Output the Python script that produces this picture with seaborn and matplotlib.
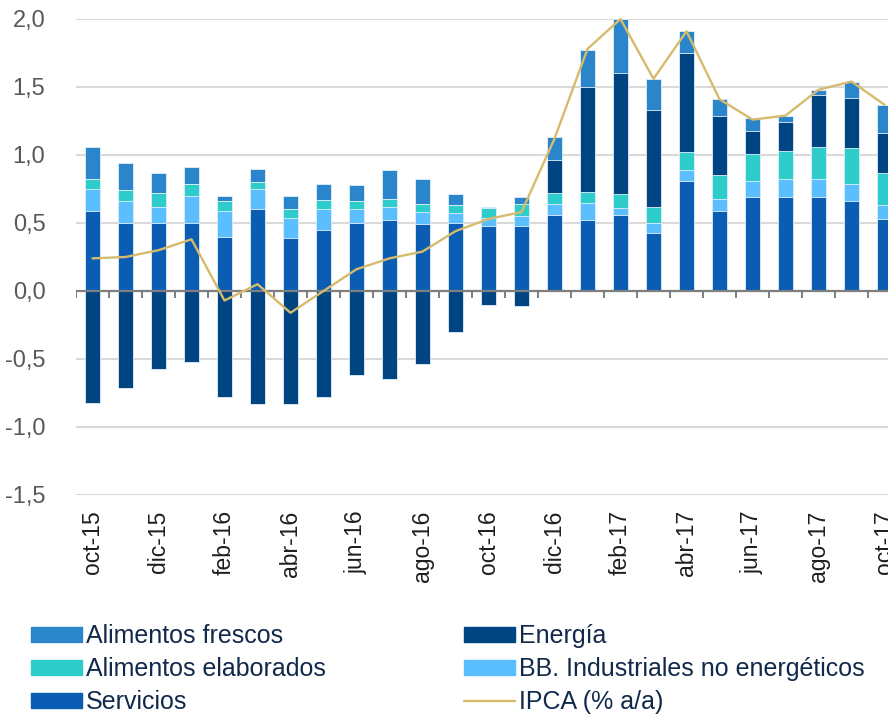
import numpy as np
import pandas as pd
import matplotlib
matplotlib.use("Agg")
import matplotlib.pyplot as plt
import matplotlib.patches as mpatches
from matplotlib.lines import Line2D
import seaborn as sns

# contribuciones al IPCA (pp) por componente
months = ["oct-15", "nov-15", "dic-15", "ene-16", "feb-16", "mar-16", "abr-16", "may-16",
          "jun-16", "jul-16", "ago-16", "sep-16", "oct-16", "nov-16", "dic-16", "ene-17",
          "feb-17", "mar-17", "abr-17", "may-17", "jun-17", "jul-17", "ago-17", "sep-17", "oct-17"]
servicios = [0.59, 0.50, 0.50, 0.50, 0.40, 0.60, 0.39, 0.45, 0.50, 0.52, 0.49, 0.50, 0.48,
             0.48, 0.56, 0.52, 0.56, 0.43, 0.81, 0.59, 0.69, 0.69, 0.69, 0.66, 0.53]
bb_industriales = [0.16, 0.16, 0.12, 0.20, 0.19, 0.15, 0.15, 0.15, 0.10, 0.10, 0.09, 0.07, 0.06,
                   0.07, 0.08, 0.13, 0.05, 0.07, 0.08, 0.09, 0.12, 0.13, 0.13, 0.13, 0.10]
alim_elaborados = [0.07, 0.08, 0.10, 0.09, 0.07, 0.05, 0.06, 0.07, 0.06, 0.06, 0.06, 0.06, 0.07,
                   0.09, 0.08, 0.08, 0.10, 0.12, 0.13, 0.17, 0.20, 0.21, 0.24, 0.26, 0.24]
energia = [-0.82, -0.71, -0.57, -0.52, -0.78, -0.83, -0.83, -0.78, -0.62, -0.65, -0.54, -0.30, -0.10,
           -0.11, 0.24, 0.77, 0.89, 0.71, 0.73, 0.44, 0.17, 0.21, 0.38, 0.37, 0.29]
alim_frescos = [0.24, 0.20, 0.15, 0.12, 0.04, 0.10, 0.10, 0.12, 0.12, 0.21, 0.18, 0.08, 0.01,
                0.05, 0.17, 0.27, 0.40, 0.23, 0.16, 0.12, 0.09, 0.05, 0.04, 0.12, 0.21]
ipca = [0.24, 0.25, 0.30, 0.38, -0.07, 0.05, -0.16, 0.00, 0.16, 0.24, 0.29, 0.44, 0.53,
        0.58, 1.12, 1.78, 2.00, 1.56, 1.91, 1.41, 1.26, 1.29, 1.48, 1.54, 1.37]
yticks = [-1.5, -1.0, -0.5, 0.0, 0.5, 1.0, 1.5, 2.0]

colors = {
    "Alimentos frescos": "#2A85CA",
    "Energía": "#004481",
    "Alimentos elaborados": "#2ECDCB",
    "BB. Industriales no energéticos": "#5BBEFF",
    "Servicios": "#0B5DB3",
    "IPCA (% a/a)": "#D6BB6D",
}

df = pd.DataFrame({
    "mes": months,
    "serv": servicios,
    "bb": bb_industriales,
    "elab": alim_elaborados,
    "ener": energia,
    "fresc": alim_frescos,
    "ipca": ipca,
})
# stacking: positives on top of each other, negative energy below zero
df["c1"] = df["serv"]
df["c2"] = df["c1"] + df["bb"]
df["c3"] = df["c2"] + df["elab"]
df["c4"] = df["c3"] + df["ener"].clip(lower=0)
df["c5"] = df["c4"] + df["fresc"]
df["neg"] = df["ener"].clip(upper=0)

sns.set_theme(style="white")
plt.rcParams["font.family"] = ["Liberation Sans", "DejaVu Sans"]

fig = plt.figure(figsize=(8.88, 7.15), dpi=100)
ax = fig.add_axes([76 / 888, 220 / 715, 825 / 888, 476 / 715])

layers = [("c5", "Alimentos frescos"), ("c4", "Energía"), ("c3", "Alimentos elaborados"),
          ("c2", "BB. Industriales no energéticos"), ("c1", "Servicios"), ("neg", "Energía")]
for col, name in layers:
    sns.barplot(data=df, x="mes", y=col, order=months, color=colors[name], saturation=1,
                width=0.47, errorbar=None, edgecolor="#E3F0FA", linewidth=0.6, ax=ax, zorder=2)

sns.lineplot(x=np.arange(len(months)), y=df["ipca"], color=colors["IPCA (% a/a)"],
             linewidth=1.7, ax=ax, zorder=4)
ax.lines[-1].set_clip_on(False)

ax.axhline(0, color="#7F7F7F", linewidth=1.6, zorder=3)
ax.vlines(np.arange(-0.5, len(months), 1), -0.05, 0, color="#7F7F7F", linewidth=1.4, zorder=3)

ax.set_xlim(-0.5, len(months) - 0.5)
ax.set_ylim(-1.5, 2.0)
ax.set_yticks(yticks)
ax.set_yticklabels([f"{v:.1f}".replace(".", ",") for v in yticks])
ax.set_xticks(np.arange(0, len(months), 2))
ax.set_xticklabels(months[::2], rotation=90)
ax.tick_params(axis="y", length=0, pad=22, labelsize=17, labelcolor="#595959")
ax.tick_params(axis="x", length=0, pad=11, labelsize=16.5, labelcolor="#1E1E1E")
for t in ax.get_xticklabels():
    t.set_verticalalignment("top")
ax.set_xlabel("")
ax.set_ylabel("")
ax.grid(axis="y", color="#D9D9D9", linewidth=1.5)
ax.set_axisbelow(True)
for s in ax.spines.values():
    s.set_visible(False)

handles = [
    mpatches.Patch(color=colors["Alimentos frescos"], label="Alimentos frescos"),
    mpatches.Patch(color=colors["Alimentos elaborados"], label="Alimentos elaborados"),
    mpatches.Patch(color=colors["Servicios"], label="Servicios"),
    mpatches.Patch(color=colors["Energía"], label="Energía"),
    mpatches.Patch(color=colors["BB. Industriales no energéticos"], label="BB. Industriales no energéticos"),
    Line2D([], [], color=colors["IPCA (% a/a)"], linewidth=1.7, label="IPCA (% a/a)"),
]
fig.legend(handles=handles, ncol=2, loc="upper left", bbox_to_anchor=(31 / 888, 1 - 624 / 715),
           frameon=False, fontsize=18, handlelength=2.05, handleheight=0.56, handletextpad=0.16,
           labelspacing=0.36, columnspacing=5.5, borderpad=0, borderaxespad=0,
           labelcolor="#11294B")

fig.savefig("out.png", dpi=100)
